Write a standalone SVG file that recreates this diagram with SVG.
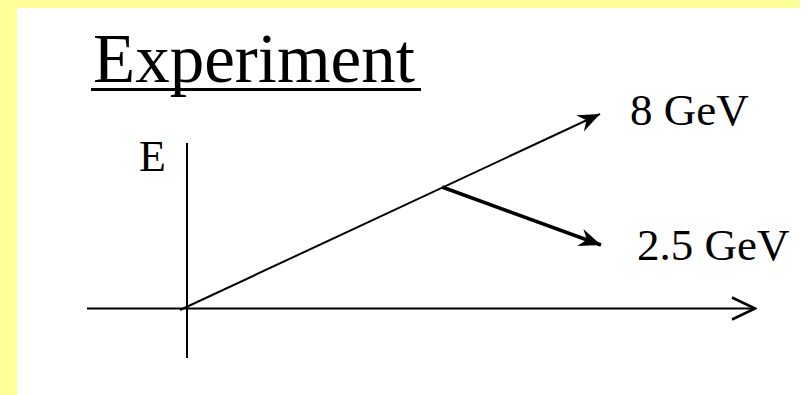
<svg xmlns="http://www.w3.org/2000/svg" width="809" height="395" viewBox="0 0 809 395">
  <defs>
    <style>
      .lbl { font-family: "Liberation Serif", "Times New Roman", serif; fill: #000; }
      .ax { stroke: #000; stroke-width: 2; fill: none; }
    </style>
    <marker id="head" markerUnits="userSpaceOnUse" markerWidth="30" markerHeight="30" viewBox="-26 -13 30 26" refX="0" refY="0" orient="auto">
      <path d="M0,0 L-22,-9 L-15,0 L-22,9 Z" fill="#000"/>
    </marker>
    <marker id="open" markerUnits="userSpaceOnUse" markerWidth="30" markerHeight="30" viewBox="-28 -14 30 28" refX="0" refY="0" orient="auto">
      <polyline points="-23,-11 0,0 -23,11" fill="none" stroke="#000" stroke-width="2.5"/>
    </marker>
  </defs>
  <rect x="0" y="0" width="809" height="395" fill="#fff"/>
  <rect x="0" y="0" width="800" height="8" fill="#FFFF99"/>
  <rect x="0" y="0" width="17" height="395" fill="#FFFF99"/>

  <g id="title">
    <text class="lbl" x="93" y="82" font-size="69">Experiment</text>
    <rect x="91" y="88" width="330" height="3" fill="#000"/>
  </g>

  <g id="axes">
    <line class="ax" x1="187" y1="143" x2="187" y2="358"/>
    <line class="ax" x1="87" y1="308.5" x2="755" y2="308.5" marker-end="url(#open)"/>
    <text class="lbl" x="139" y="171" font-size="44">E</text>
  </g>

  <g id="connectors">
    <line x1="180" y1="310" x2="600" y2="114" stroke="#000" stroke-width="2" marker-end="url(#head)"/>
    <line x1="442" y1="187" x2="601" y2="245" stroke="#000" stroke-width="3.5" marker-end="url(#head)"/>
  </g>

  <g id="label-8gev">
    <text class="lbl" x="630" y="125" font-size="45">8 GeV</text>
  </g>
  <g id="label-25gev">
    <text class="lbl" x="637" y="260" font-size="45">2.5 GeV</text>
  </g>
</svg>
